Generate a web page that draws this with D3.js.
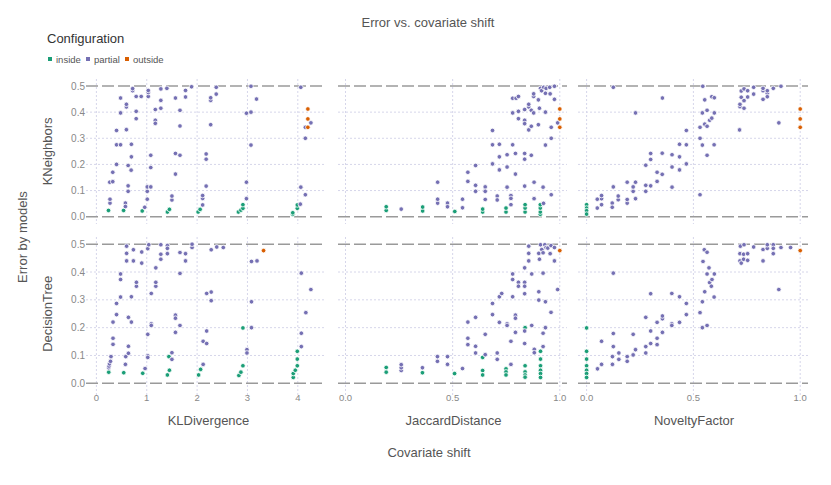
<!DOCTYPE html>
<html><head><meta charset="utf-8">
<script src="https://cdn.jsdelivr.net/npm/d3@7"></script>
<style>body{margin:0;background:#fff}svg{display:block;font-family:"Liberation Sans",Arial,sans-serif}</style>
</head><body><svg id="c" width="831" height="485"></svg>
<script>
const configs = ["inside", "partial", "outside"];
const configColors = ["#1b9e77", "#7570b3", "#d95f02"];
const models = ["KNeighbors", "DecisionTree"];
const metrics = ["KLDivergence", "JaccardDistance", "NoveltyFactor"];
const yTickValues = [0, 0.1, 0.2, 0.3, 0.4, 0.5];
const xTicksKL = [0, 1, 2, 3, 4];
const xTicksUnit = [0, 0.5, 1];

// [shift, error, config]  i = inside, p = partial, o = outside
const knnKL = [
[0.24,0.024,"i"],[0.54,0.024,"i"],[0.91,0.022,"i"],[1.41,0.018,"i"],[1.45,0.028,"i"],[2.02,0.018,"i"],[2.06,0.028,"i"],[2.82,0.018,"i"],[2.87,0.025,"i"],[2.91,0.032,"i"],[2.91,0.046,"i"],[3.90,0.009,"i"],[3.90,0.015,"i"],[3.99,0.032,"i"],[3.99,0.045,"i"],
[0.27,0.052,"p"],[0.27,0.067,"p"],[0.265,0.132,"p"],[0.325,0.134,"p"],[0.325,0.17,"p"],[0.40,0.20,"p"],[0.40,0.275,"p"],[0.48,0.275,"p"],[0.40,0.33,"p"],[0.48,0.397,"p"],[0.48,0.454,"p"],
[0.576,0.052,"p"],[0.576,0.039,"p"],[0.596,0.333,"p"],[0.596,0.42,"p"],[0.596,0.43,"p"],[0.63,0.118,"p"],[0.63,0.097,"p"],[0.63,0.196,"p"],[0.69,0.178,"p"],[0.695,0.229,"p"],[0.695,0.277,"p"],[0.72,0.482,"p"],[0.72,0.49,"p"],[0.79,0.375,"p"],[0.79,0.403,"p"],[0.79,0.46,"p"],[0.89,0.46,"p"],
[0.96,0.036,"p"],[1.01,0.067,"p"],[1.01,0.097,"p"],[1.01,0.114,"p"],[1.08,0.114,"p"],[1.08,0.188,"p"],[1.08,0.235,"p"],[1.03,0.46,"p"],[1.03,0.475,"p"],[1.03,0.483,"p"],[1.17,0.369,"p"],[1.17,0.357,"p"],[1.17,0.41,"p"],[1.28,0.415,"p"],[1.28,0.445,"p"],[1.28,0.489,"p"],[1.40,0.491,"p"],
[1.50,0.064,"p"],[1.50,0.079,"p"],[1.57,0.242,"p"],[1.66,0.235,"p"],[1.57,0.163,"p"],[1.57,0.454,"p"],[1.66,0.407,"p"],[1.66,0.347,"p"],[1.77,0.483,"p"],[1.77,0.458,"p"],[1.89,0.497,"p"],
[2.11,0.045,"p"],[2.11,0.07,"p"],[2.11,0.081,"p"],[2.18,0.117,"p"],[2.18,0.22,"p"],[2.18,0.24,"p"],[2.27,0.352,"p"],[2.27,0.445,"p"],[2.27,0.455,"p"],[2.38,0.469,"p"],[2.38,0.495,"p"],
[2.98,0.069,"p"],[2.98,0.132,"p"],[2.98,0.396,"p"],[3.07,0.40,"p"],[3.07,0.274,"p"],[3.07,0.499,"p"],[3.18,0.45,"p"],
[4.05,0.048,"p"],[4.06,0.113,"p"],[4.15,0.084,"p"],[4.15,0.30,"p"],[4.15,0.342,"p"],[4.26,0.359,"p"],[4.06,0.495,"p"],
[4.20,0.412,"o"],[4.20,0.374,"o"],[4.20,0.342,"o"]
];
const knnJaccard = [
[0.19,0.024,"i"],[0.19,0.038,"i"],[0.36,0.022,"i"],[0.36,0.037,"i"],[0.51,0.02,"i"],[0.64,0.018,"i"],[0.64,0.029,"i"],[0.749,0.018,"i"],[0.749,0.033,"i"],[0.838,0.018,"i"],[0.838,0.033,"i"],[0.838,0.046,"i"],[0.909,0.009,"i"],[0.909,0.018,"i"],[0.909,0.033,"i"],[0.909,0.046,"i"],
[0.26,0.029,"p"],[0.43,0.132,"p"],[0.43,0.052,"p"],[0.43,0.067,"p"],[0.476,0.052,"p"],[0.476,0.038,"p"],[0.546,0.067,"p"],[0.546,0.034,"p"],[0.571,0.135,"p"],[0.571,0.17,"p"],[0.607,0.196,"p"],[0.607,0.12,"p"],[0.607,0.097,"p"],[0.652,0.114,"p"],[0.652,0.097,"p"],[0.652,0.066,"p"],
[0.686,0.33,"p"],[0.686,0.275,"p"],[0.686,0.202,"p"],[0.708,0.079,"p"],[0.708,0.064,"p"],[0.718,0.277,"p"],[0.718,0.229,"p"],[0.718,0.179,"p"],[0.754,0.237,"p"],[0.754,0.19,"p"],[0.754,0.113,"p"],[0.772,0.081,"p"],[0.772,0.07,"p"],[0.772,0.046,"p"],
[0.78,0.275,"p"],[0.78,0.453,"p"],[0.796,0.453,"p"],[0.807,0.46,"p"],[0.78,0.397,"p"],[0.793,0.242,"p"],[0.793,0.163,"p"],[0.807,0.403,"p"],[0.807,0.375,"p"],[0.836,0.242,"p"],[0.836,0.22,"p"],[0.836,0.41,"p"],[0.836,0.369,"p"],[0.836,0.356,"p"],[0.836,0.117,"p"],
[0.855,0.42,"p"],[0.855,0.43,"p"],[0.855,0.332,"p"],[0.867,0.346,"p"],[0.867,0.407,"p"],[0.867,0.235,"p"],[0.878,0.46,"p"],[0.878,0.47,"p"],[0.878,0.397,"p"],[0.88,0.132,"p"],[0.88,0.069,"p"],[0.90,0.447,"p"],[0.905,0.415,"p"],[0.90,0.352,"p"],
[0.91,0.491,"p"],[0.915,0.482,"p"],[0.925,0.495,"p"],[0.933,0.472,"p"],[0.936,0.491,"p"],[0.953,0.495,"p"],[0.955,0.47,"p"],[0.975,0.499,"p"],[0.975,0.449,"p"],[0.924,0.051,"p"],[0.922,0.113,"p"],[0.933,0.40,"p"],[0.933,0.274,"p"],[0.96,0.342,"p"],[0.96,0.30,"p"],[0.96,0.084,"p"],[0.99,0.359,"p"],
[1,0.412,"o"],[1,0.374,"o"],[1,0.342,"o"]
];
const knnNovelty = [
[0,0.046,"i"],[0,0.033,"i"],[0,0.023,"i"],[0,0.01,"i"],
[0.05,0.033,"p"],[0.07,0.046,"p"],[0.07,0.069,"p"],[0.07,0.081,"p"],[0.05,0.067,"p"],[0.12,0.052,"p"],[0.12,0.036,"p"],[0.125,0.114,"p"],[0.148,0.065,"p"],[0.148,0.079,"p"],[0.19,0.052,"p"],[0.19,0.066,"p"],[0.19,0.132,"p"],[0.218,0.097,"p"],[0.218,0.114,"p"],[0.229,0.132,"p"],[0.229,0.069,"p"],
[0.277,0.197,"p"],[0.277,0.097,"p"],[0.277,0.12,"p"],[0.30,0.242,"p"],[0.30,0.219,"p"],[0.30,0.118,"p"],[0.33,0.17,"p"],[0.33,0.135,"p"],[0.354,0.162,"p"],[0.354,0.243,"p"],[0.355,0.454,"p"],[0.229,0.397,"p"],[0.125,0.495,"p"],
[0.40,0.237,"p"],[0.40,0.19,"p"],[0.40,0.113,"p"],[0.435,0.229,"p"],[0.435,0.179,"p"],[0.435,0.277,"p"],[0.467,0.275,"p"],[0.467,0.33,"p"],[0.467,0.202,"p"],[0.531,0.342,"p"],[0.531,0.30,"p"],[0.531,0.084,"p"],[0.542,0.397,"p"],[0.542,0.274,"p"],[0.544,0.499,"p"],
[0.553,0.447,"p"],[0.553,0.354,"p"],[0.564,0.407,"p"],[0.564,0.346,"p"],[0.564,0.235,"p"],[0.576,0.369,"p"],[0.586,0.377,"p"],[0.598,0.397,"p"],[0.597,0.275,"p"],[0.586,0.459,"p"],[0.598,0.455,"p"],
[0.716,0.332,"p"],[0.718,0.421,"p"],[0.718,0.43,"p"],[0.724,0.457,"p"],[0.724,0.481,"p"],[0.737,0.415,"p"],[0.737,0.444,"p"],[0.737,0.489,"p"],[0.754,0.482,"p"],[0.754,0.458,"p"],[0.782,0.469,"p"],[0.782,0.495,"p"],[0.826,0.449,"p"],[0.826,0.482,"p"],[0.826,0.491,"p"],[0.846,0.472,"p"],[0.846,0.459,"p"],[0.846,0.482,"p"],[0.874,0.491,"p"],[0.91,0.499,"p"],[0.90,0.359,"p"],
[1,0.412,"o"],[1,0.374,"o"],[1,0.342,"o"]
];
const treeKL = [
[0.245,0.040,"i"],[0.543,0.038,"i"],[0.92,0.036,"i"],[1.41,0.030,"i"],[1.45,0.047,"i"],[1.44,0.096,"i"],[2.03,0.030,"i"],[2.07,0.050,"i"],[2.83,0.028,"i"],[2.87,0.040,"i"],[2.91,0.063,"i"],[2.91,0.199,"i"],[3.91,0.021,"i"],[3.91,0.035,"i"],[3.95,0.047,"i"],[3.99,0.063,"i"],[3.99,0.087,"i"],[3.99,0.115,"i"],
[0.245,0.056,"p"],[0.25,0.062,"p"],[0.26,0.07,"p"],[0.28,0.079,"p"],[0.29,0.096,"p"],[0.33,0.14,"p"],[0.33,0.162,"p"],[0.33,0.22,"p"],[0.40,0.247,"p"],[0.40,0.287,"p"],[0.48,0.31,"p"],[0.48,0.373,"p"],[0.48,0.393,"p"],
[0.576,0.068,"p"],[0.583,0.096,"p"],[0.636,0.108,"p"],[0.636,0.133,"p"],[0.636,0.237,"p"],[0.695,0.22,"p"],[0.695,0.311,"p"],[0.60,0.44,"p"],[0.60,0.467,"p"],[0.60,0.493,"p"],[0.735,0.44,"p"],[0.735,0.48,"p"],[0.795,0.349,"p"],[0.795,0.363,"p"],[0.90,0.432,"p"],[0.90,0.472,"p"],
[0.967,0.053,"p"],[1.02,0.099,"p"],[1.02,0.093,"p"],[1.02,0.176,"p"],[1.02,0.484,"p"],[1.04,0.498,"p"],[1.09,0.214,"p"],[1.09,0.208,"p"],[1.09,0.323,"p"],[1.18,0.349,"p"],[1.18,0.363,"p"],[1.18,0.415,"p"],[1.28,0.446,"p"],[1.28,0.464,"p"],[1.28,0.498,"p"],[1.41,0.495,"p"],[1.41,0.485,"p"],[1.41,0.466,"p"],
[1.50,0.11,"p"],[1.50,0.086,"p"],[1.57,0.245,"p"],[1.57,0.234,"p"],[1.57,0.183,"p"],[1.66,0.208,"p"],[1.66,0.395,"p"],[1.66,0.47,"p"],[1.77,0.44,"p"],[1.77,0.466,"p"],[1.90,0.488,"p"],[1.90,0.50,"p"],
[2.12,0.068,"p"],[2.12,0.151,"p"],[2.19,0.143,"p"],[2.19,0.188,"p"],[2.28,0.297,"p"],[2.28,0.328,"p"],[2.19,0.323,"p"],[2.28,0.48,"p"],[2.39,0.49,"p"],[2.52,0.488,"p"],
[2.99,0.121,"p"],[2.99,0.109,"p"],[3.08,0.20,"p"],[3.08,0.293,"p"],[3.08,0.438,"p"],[3.19,0.44,"p"],[4.07,0.132,"p"],[4.07,0.18,"p"],[4.07,0.396,"p"],[4.16,0.254,"p"],[4.26,0.337,"p"],
[3.32,0.477,"o"]
];
const treeJaccard = [
[0.19,0.04,"i"],[0.19,0.057,"i"],[0.359,0.038,"i"],[0.509,0.035,"i"],[0.64,0.093,"i"],[0.64,0.046,"i"],[0.64,0.03,"i"],[0.749,0.052,"i"],[0.749,0.041,"i"],[0.749,0.03,"i"],[0.838,0.2,"i"],[0.838,0.063,"i"],[0.838,0.041,"i"],[0.838,0.03,"i"],[0.838,0.022,"i"],[0.91,0.115,"i"],[0.91,0.087,"i"],[0.91,0.063,"i"],[0.91,0.047,"i"],[0.91,0.035,"i"],[0.91,0.021,"i"],
[0.26,0.046,"p"],[0.26,0.056,"p"],[0.26,0.067,"p"],[0.359,0.056,"p"],[0.429,0.079,"p"],[0.429,0.096,"p"],[0.476,0.068,"p"],[0.476,0.096,"p"],[0.546,0.053,"p"],[0.571,0.139,"p"],[0.571,0.162,"p"],[0.571,0.22,"p"],[0.607,0.133,"p"],[0.607,0.109,"p"],[0.607,0.237,"p"],[0.652,0.176,"p"],[0.652,0.103,"p"],
[0.686,0.287,"p"],[0.686,0.247,"p"],[0.708,0.109,"p"],[0.708,0.086,"p"],[0.718,0.311,"p"],[0.718,0.219,"p"],[0.729,0.323,"p"],[0.754,0.214,"p"],[0.754,0.208,"p"],[0.772,0.151,"p"],[0.772,0.068,"p"],[0.78,0.393,"p"],[0.78,0.373,"p"],[0.78,0.311,"p"],[0.793,0.245,"p"],[0.793,0.234,"p"],[0.793,0.183,"p"],
[0.807,0.363,"p"],[0.807,0.349,"p"],[0.836,0.415,"p"],[0.836,0.363,"p"],[0.836,0.349,"p"],[0.836,0.322,"p"],[0.836,0.188,"p"],[0.836,0.143,"p"],[0.855,0.44,"p"],[0.855,0.493,"p"],[0.855,0.467,"p"],[0.869,0.393,"p"],[0.869,0.208,"p"],[0.881,0.122,"p"],[0.881,0.11,"p"],
[0.902,0.467,"p"],[0.905,0.446,"p"],[0.902,0.299,"p"],[0.902,0.329,"p"],[0.91,0.498,"p"],[0.916,0.481,"p"],[0.922,0.469,"p"],[0.93,0.498,"p"],[0.936,0.488,"p"],[0.944,0.486,"p"],[0.955,0.466,"p"],[0.959,0.495,"p"],[0.975,0.488,"p"],[0.975,0.44,"p"],
[0.922,0.396,"p"],[0.933,0.293,"p"],[0.933,0.2,"p"],[0.922,0.18,"p"],[0.922,0.132,"p"],[0.959,0.255,"p"],[0.99,0.337,"p"],
[1,0.477,"o"]
];
const treeNovelty = [
[0,0.199,"i"],[0,0.115,"i"],[0,0.087,"i"],[0,0.063,"i"],[0,0.047,"i"],[0,0.035,"i"],[0,0.021,"i"],
[0.051,0.052,"p"],[0.07,0.068,"p"],[0.07,0.151,"p"],[0.121,0.068,"p"],[0.121,0.096,"p"],[0.125,0.132,"p"],[0.125,0.179,"p"],[0.125,0.396,"p"],[0.151,0.109,"p"],[0.151,0.086,"p"],[0.19,0.096,"p"],[0.19,0.079,"p"],[0.218,0.102,"p"],[0.218,0.176,"p"],[0.229,0.121,"p"],
[0.277,0.237,"p"],[0.277,0.132,"p"],[0.277,0.109,"p"],[0.30,0.322,"p"],[0.30,0.188,"p"],[0.30,0.143,"p"],[0.33,0.219,"p"],[0.33,0.162,"p"],[0.33,0.139,"p"],[0.355,0.232,"p"],[0.355,0.242,"p"],[0.355,0.183,"p"],[0.399,0.323,"p"],[0.399,0.214,"p"],[0.399,0.208,"p"],
[0.435,0.311,"p"],[0.435,0.219,"p"],[0.467,0.287,"p"],[0.467,0.247,"p"],[0.531,0.254,"p"],[0.542,0.293,"p"],[0.542,0.2,"p"],[0.545,0.438,"p"],[0.551,0.48,"p"],[0.564,0.471,"p"],[0.564,0.393,"p"],[0.564,0.208,"p"],[0.553,0.329,"p"],[0.573,0.415,"p"],[0.576,0.362,"p"],[0.584,0.349,"p"],[0.587,0.373,"p"],[0.598,0.393,"p"],[0.597,0.31,"p"],
[0.72,0.493,"p"],[0.718,0.466,"p"],[0.718,0.44,"p"],[0.724,0.432,"p"],[0.735,0.446,"p"],[0.735,0.464,"p"],[0.737,0.498,"p"],[0.754,0.466,"p"],[0.754,0.442,"p"],[0.782,0.49,"p"],[0.826,0.44,"p"],[0.826,0.481,"p"],[0.846,0.485,"p"],[0.846,0.498,"p"],[0.874,0.498,"p"],[0.874,0.485,"p"],[0.874,0.466,"p"],[0.91,0.488,"p"],[0.955,0.488,"p"],[0.90,0.337,"p"],
[1,0.477,"o"]
];

const panelData = [[knnKL, knnJaccard, knnNovelty], [treeKL, treeJaccard, treeNovelty]];
const cfgIndex = {i: 0, p: 1, o: 2};

// layout
const cols = [
  {left: 90, right: 325, r0: 96.4, r1: 297.8, domain: [0, 4], ticks: xTicksKL, fmt: d3.format("d")},
  {left: 338, right: 567, r0: 345.5, r1: 559.8, domain: [0, 1], ticks: xTicksUnit, fmt: d3.format(".1f")},
  {left: 578, right: 808, r0: 586.6, r1: 800.2, domain: [0, 1], ticks: xTicksUnit, fmt: d3.format(".1f")}
];
const rows = [
  {top: 79, bottom: 224, r0: 216.7, r1: 86},
  {top: 237, bottom: 391, r0: 383.3, r1: 244.2}
];

const svg = d3.select("#c");
const color = d3.scaleOrdinal().domain(configs).range(configColors);
const labelColor = "#555";
const tickColor = "#888";
const gridColor = "#d6d6ea";
const centerX = 428;

svg.append("text").attr("x", centerX).attr("y", 27).attr("text-anchor", "middle")
  .attr("font-size", 13).attr("fill", labelColor).text("Error vs. covariate shift");

// legend
svg.append("text").attr("x", 47).attr("y", 43).attr("font-size", 13).attr("fill", "#333").text("Configuration");
const legX = [48, 86, 125];
configs.forEach((c, i) => {
  const g = svg.append("g").attr("transform", `translate(${legX[i]},59)`);
  g.append("rect").attr("x", 0).attr("y", -2).attr("width", 4).attr("height", 4).attr("fill", color(c));
  g.append("text").attr("x", 8).attr("y", 3.5).attr("font-size", 9.5).attr("fill", "#555").text(c);
});

rows.forEach((row, ri) => {
  const y = d3.scaleLinear().domain([0, 0.5]).range([row.r0, row.r1]);
  cols.forEach((col, ci) => {
    const x = d3.scaleLinear().domain(col.domain).range([col.r0, col.r1]);
    const g = svg.append("g");
    const extraLeft = ci === 0 ? 4 : 0;
    const extraBottom = ri === rows.length - 1 ? 4 : 0;
    // vertical grid
    g.selectAll(".vg").data(col.ticks).join("line")
      .attr("x1", d => x(d)).attr("x2", d => x(d))
      .attr("y1", row.top).attr("y2", row.bottom + extraBottom)
      .attr("stroke", gridColor).attr("stroke-width", 1).attr("stroke-dasharray", "2,2");
    // horizontal grid
    g.selectAll(".hg").data(yTickValues.filter(v => v > 0 && v < 0.5)).join("line")
      .attr("x1", col.left - extraLeft).attr("x2", col.right)
      .attr("y1", d => y(d)).attr("y2", d => y(d))
      .attr("stroke", gridColor).attr("stroke-width", 1).attr("stroke-dasharray", "2,2");
    // reference rules at 0 and 0.5
    g.selectAll(".rule").data([0, 0.5]).join("line")
      .attr("x1", col.left - extraLeft).attr("x2", col.right)
      .attr("y1", d => y(d)).attr("y2", d => y(d))
      .attr("stroke", "#9a9a9a").attr("stroke-width", 1.6).attr("stroke-dasharray", "12,4");
    // y tick labels
    if (ci === 0) {
      g.selectAll(".yl").data(yTickValues).join("text")
        .attr("x", col.left - 5).attr("y", d => y(d)).attr("dy", "0.35em")
        .attr("text-anchor", "end").attr("font-size", 10).attr("fill", tickColor)
        .text(d3.format(".1f"));
    }
    // x tick labels
    if (ri === rows.length - 1) {
      g.selectAll(".xl").data(col.ticks).join("text")
        .attr("x", d => x(d)).attr("y", 401)
        .attr("text-anchor", "middle").attr("font-size", 9.5).attr("fill", tickColor)
        .text(col.fmt);
      g.append("text").attr("x", (col.left + col.right) / 2 + 1).attr("y", 425)
        .attr("text-anchor", "middle").attr("font-size", 13).attr("fill", labelColor)
        .text(metrics[ci]);
    }
    // points
    g.selectAll("circle").data(panelData[ri][ci]).join("circle")
      .attr("cx", d => x(d[0])).attr("cy", d => y(d[1])).attr("r", 2.3)
      .attr("fill", d => configColors[cfgIndex[d[2]]])
      .attr("stroke", "#fff").attr("stroke-width", 0.8);
  });
  // row label
  const cy = (row.r0 + row.r1) / 2;
  svg.append("text").attr("transform", `translate(52,${cy}) rotate(-90)`)
    .attr("text-anchor", "middle").attr("font-size", 13).attr("fill", labelColor).text(models[ri]);
});

svg.append("text").attr("transform", "translate(27,237) rotate(-90)")
  .attr("text-anchor", "middle").attr("font-size", 13).attr("fill", labelColor).text("Error by models");
svg.append("text").attr("x", centerX + 1).attr("y", 457).attr("text-anchor", "middle")
  .attr("font-size", 13).attr("fill", labelColor).text("Covariate shift");
</script></body></html>
